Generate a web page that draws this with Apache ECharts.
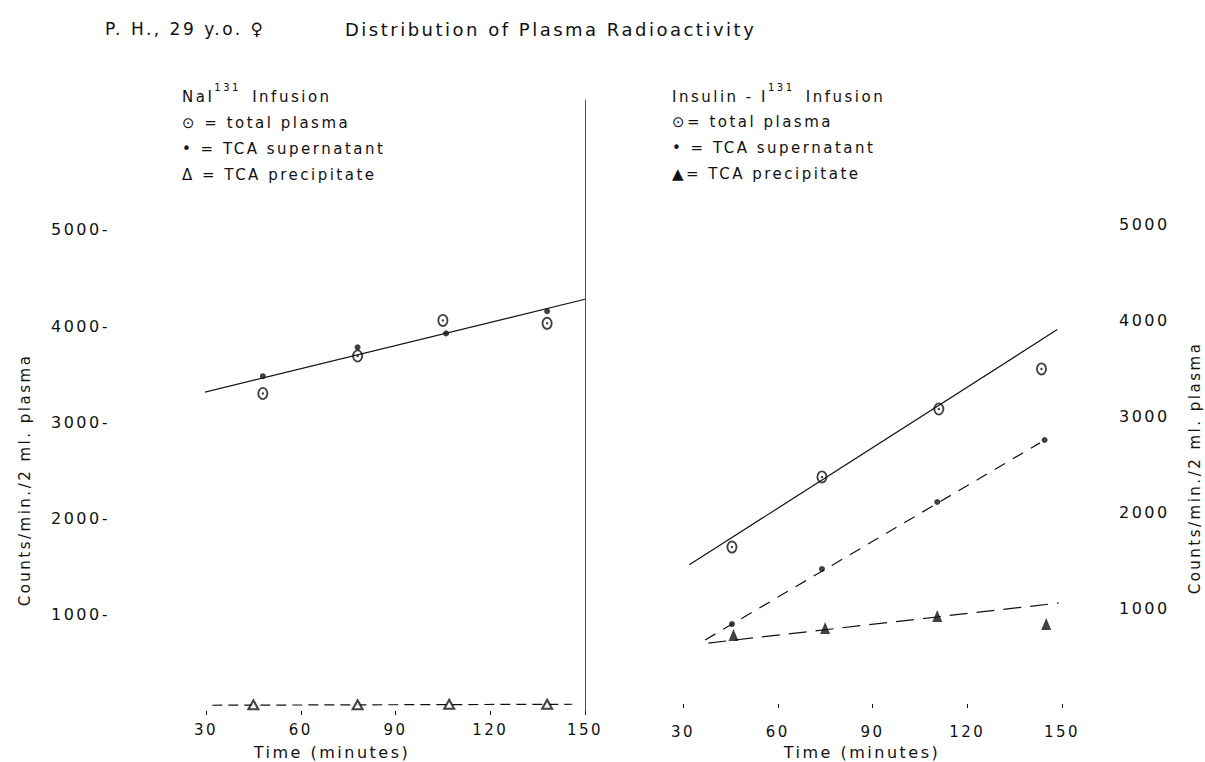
<!DOCTYPE html>
<html>
<head>
<meta charset="utf-8">
<title>Distribution of Plasma Radioactivity</title>
<script src="https://cdn.jsdelivr.net/npm/echarts@6/dist/echarts.min.js"></script>
<style>
  html, body { margin: 0; padding: 0; background: #fff; }
  #chart { width: 1205px; height: 762px; }
  /* the figure is hand lettered with wide spacing */
  #chart svg text { letter-spacing: 2.5px; }
</style>
</head>
<body>
<div id="chart"></div>
<script>
// tick values shown on the axes
const timeTicks = [30, 60, 90, 120, 150]
const countTicks = [1000, 2000, 3000, 4000, 5000]

// NaI-131 infusion  [minutes, counts/min./2 ml plasma]
const naTotal = [[48, 3300], [78, 3690], [105, 4060], [138, 4030]]
const naSuper = [[48, 3480], [78, 3780], [106, 3925], [138, 4155]]
const naPrecip = [[45, 65], [78, 65], [107, 70], [138, 70]]
const naTotalFit = [[28, 3300], [150, 4280]]
const naPrecipFit = [[32, 60], [146, 70]]

// Insulin-I-131 infusion
const insTotal = [[45.5, 1635], [74, 2365], [111, 3073], [143.5, 3490]]
const insSuper = [[45.5, 833], [74, 1406], [110.5, 2104], [144.5, 2750]]
const insPrecip = [[46, 720], [75, 792], [110.5, 917], [145, 833]]
const insTotalFit = [[32, 1450], [148.5, 3900]]
const insSuperFit = [[37, 667], [143, 2720]]
const insPrecipFit = [[38, 635], [149, 1052]]

const INK = '#111'
const FONT = 'DejaVu Sans'
const SPACING = 2.5
// circle with a centre dot, like the hand-lettered ⊙
const ringDot = 'path://M0,-6A5,6 0 1,1 0,6A5,6 0 1,1 0,-6Z' +
  'M0,-4.3A3.3,4.3 0 1,0 0,4.3A3.3,4.3 0 1,0 0,-4.3Z' +
  'M0,-1.1A1.1,1.1 0 1,1 0,1.1A1.1,1.1 0 1,1 0,-1.1Z'

const chart = echarts.init(document.getElementById('chart'), null, { renderer: 'svg' })

function timeAxis(gridIndex, offset) {
  return {
    type: 'value',
    gridIndex,
    min: 30,
    max: 150,
    interval: 30,
    offset,
    axisLine: { show: false },
    axisTick: { show: true, length: 4, lineStyle: { color: INK, width: 1 } },
    axisLabel: {
      color: INK, fontSize: 15, fontFamily: FONT, margin: 9,
      formatter: v => (timeTicks.includes(v) ? String(v) : ''),
    },
    splitLine: { show: false },
  }
}

function fitLine(xi, data, type) {
  return {
    type: 'line',
    xAxisIndex: xi,
    yAxisIndex: xi === 0 ? 0 : 2,
    data,
    symbol: 'none',
    clip: false,
    silent: true,
    lineStyle: { color: INK, width: 1.2, type },
  }
}

function points(xi, data, symbol, size, empty) {
  return {
    type: 'scatter',
    xAxisIndex: xi,
    yAxisIndex: xi === 0 ? 0 : 2,
    data,
    symbol,
    symbolSize: size,
    z: 5,
    itemStyle: empty
      ? { color: INK, borderColor: INK, borderWidth: 1.3 }
      : { color: INK },
  }
}

function label(text, x, y, size, extra) {
  return {
    type: 'text',
    x, y,
    style: Object.assign({
      text,
      fill: INK,
      fontSize: size,
      fontFamily: FONT,
      verticalAlign: 'middle',
    }, extra || {}),
  }
}

// "base^131 rest": rich tokens are placed from unspaced widths, so pad them
function supLabel(base, sup, rest, x, y) {
  return label(`{a|${base}}{s|${sup}}{b|${rest}}`, x, y, 15, {
    rich: {
      a: { fontSize: 15, fontFamily: FONT, color: INK, lineHeight: 30, padding: [0, SPACING * base.length, 0, 0] },
      s: { fontSize: 10, fontFamily: FONT, color: INK, lineHeight: 10, verticalAlign: 'top', padding: [0, SPACING * sup.length + 4, 0, 0] },
      b: { fontSize: 15, fontFamily: FONT, color: INK, lineHeight: 30 },
    },
  })
}

function vertical(text, x, y) {
  return Object.assign(label(text, x, y, 15, { align: 'center' }), { rotation: Math.PI / 2 })
}

chart.setOption({
  animation: false,
  backgroundColor: '#fff',
  grid: [
    { left: 206, right: 620, top: 100, bottom: 51 },
    { left: 683, right: 143, top: 224, bottom: 58 },
  ],
  xAxis: [timeAxis(0, 2), timeAxis(1, 11)],
  yAxis: [
    {
      type: 'value', gridIndex: 0, min: 0, max: 6351, interval: 1000,
      axisLine: { show: false }, axisTick: { show: false }, splitLine: { show: false },
      axisLabel: {
        color: INK, fontSize: 16, fontFamily: FONT, margin: 96,
        formatter: v => (countTicks.includes(v) ? v + '-' : ''),
      },
    },
    {
      // right frame line of the NaI panel
      type: 'value', gridIndex: 0, position: 'right', min: 0, max: 6351,
      axisLine: { show: true, lineStyle: { color: '#555', width: 1 } },
      axisTick: { show: false }, axisLabel: { show: false }, splitLine: { show: false },
    },
    {
      type: 'value', gridIndex: 1, position: 'right', min: 0, max: 5000, interval: 1000,
      axisLine: { show: false }, axisTick: { show: false }, splitLine: { show: false },
      axisLabel: {
        color: INK, fontSize: 16, fontFamily: FONT, margin: 57,
        formatter: v => (countTicks.includes(v) ? String(v) : ''),
      },
    },
  ],
  graphic: [
    label('P. H., 29 y.o. ♀', 105, 29, 17),
    label('Distribution of Plasma Radioactivity', 345, 29, 18),

    supLabel('NaI', '131', ' Infusion', 182, 97),
    label('⊙ = total plasma', 182, 123, 15),
    label('• = TCA supernatant', 182, 149, 15),
    label('Δ = TCA precipitate', 182, 175, 15),

    supLabel('Insulin - I', '131', ' Infusion', 672, 97),
    label('⊙= total plasma', 672, 122, 15),
    label('• = TCA supernatant', 672, 148, 15),
    label('▲= TCA precipitate', 672, 174, 15),

    vertical('Counts/min./2 ml. plasma', 25, 480),
    vertical('Counts/min./2 ml. plasma', 1195, 468),
    label('Time (minutes)', 332, 752, 16, { align: 'center' }),
    label('Time (minutes)', 862, 752, 16, { align: 'center' }),
  ],
  series: [
    fitLine(0, naTotalFit, 'solid'),
    fitLine(0, naPrecipFit, [10, 6]),
    points(0, naTotal, ringDot, [11, 13]),
    points(0, naSuper, 'circle', 6),
    points(0, naPrecip, 'emptyTriangle', [10, 9], true),

    fitLine(1, insTotalFit, 'solid'),
    fitLine(1, insSuperFit, [12, 9]),
    fitLine(1, insPrecipFit, [18, 9]),
    points(1, insTotal, ringDot, [11, 13]),
    points(1, insSuper, 'circle', 6),
    points(1, insPrecip, 'triangle', [10, 12]),
  ],
})

window.addEventListener('resize', () => chart.resize())
</script>
</body>
</html>
